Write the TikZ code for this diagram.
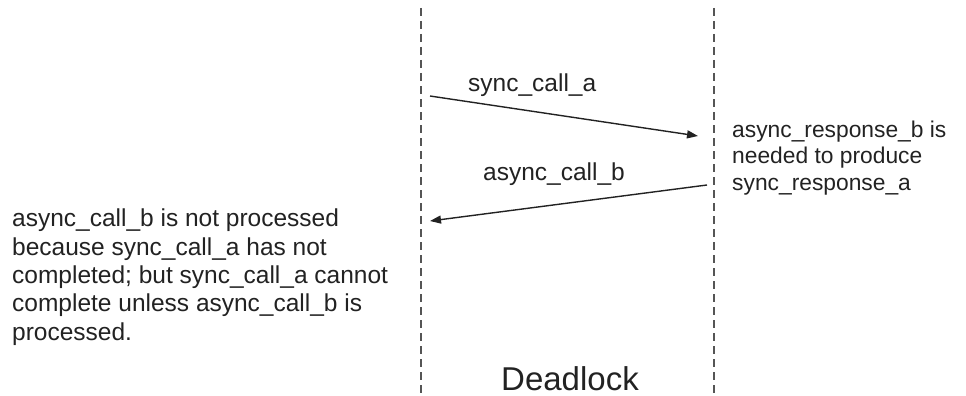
\documentclass[tikz,border=0pt]{standalone}
\usepackage{fontspec}
\setmainfont{Liberation Sans}
\usetikzlibrary{arrows.meta}
\definecolor{txt}{HTML}{222222}
\definecolor{life}{HTML}{555555}
\tikzset{
  lifeline/.style={draw=life, line width=1.6pt, dash pattern=on 8pt off 5pt},
  msg/.style={draw=txt, line width=1.4pt, -{Triangle[length=11pt,width=8pt]}},
  lbl/.style={inner sep=0pt, text=txt, font=\fontsize{24.5}{28.3}\selectfont},
  note/.style={inner sep=0pt, text=txt, align=left},
}
\begin{document}
\begin{tikzpicture}[x=1pt,y=-1pt]
\path[use as bounding box] (0,0) rectangle (966,396);
% lifelines
\coordinate (lt) at (421,8);
\coordinate (lb) at (421,394);
\coordinate (rt) at (714,8);
\coordinate (rb) at (714,394);
\draw[lifeline] (lt) -- (lb);
\draw[lifeline] (rt) -- (rb);
% messages
\coordinate (m1s) at (430,96);
\coordinate (m1e) at (698,136);
\coordinate (m2s) at (707,185);
\coordinate (m2e) at (430,221);
\draw[msg] (m1s) -- (m1e);
\draw[msg] (m2s) -- (m2e);
% labels
\node[lbl, anchor=base west] (l1) at (468,91) {sync\_call\_a};
\node[lbl, anchor=base west] (l2) at (483,180) {async\_call\_b};
% notes
\node[note, anchor=north west, font=\fontsize{22.8}{26.5}\selectfont] (rn) at (732,120.5)
  {async\_response\_b is\\needed to produce\\sync\_response\_a};
\node[note, anchor=north west, font=\fontsize{24.5}{28.3}\selectfont] (ln) at (12,209)
  {async\_call\_b is not processed\\because sync\_call\_a has not\\completed; but sync\_call\_a cannot\\complete unless async\_call\_b is\\processed.};
\node[lbl, anchor=base, font=\fontsize{33}{38}\selectfont] (dl) at (570,390) {Deadlock};
\end{tikzpicture}
\end{document}
